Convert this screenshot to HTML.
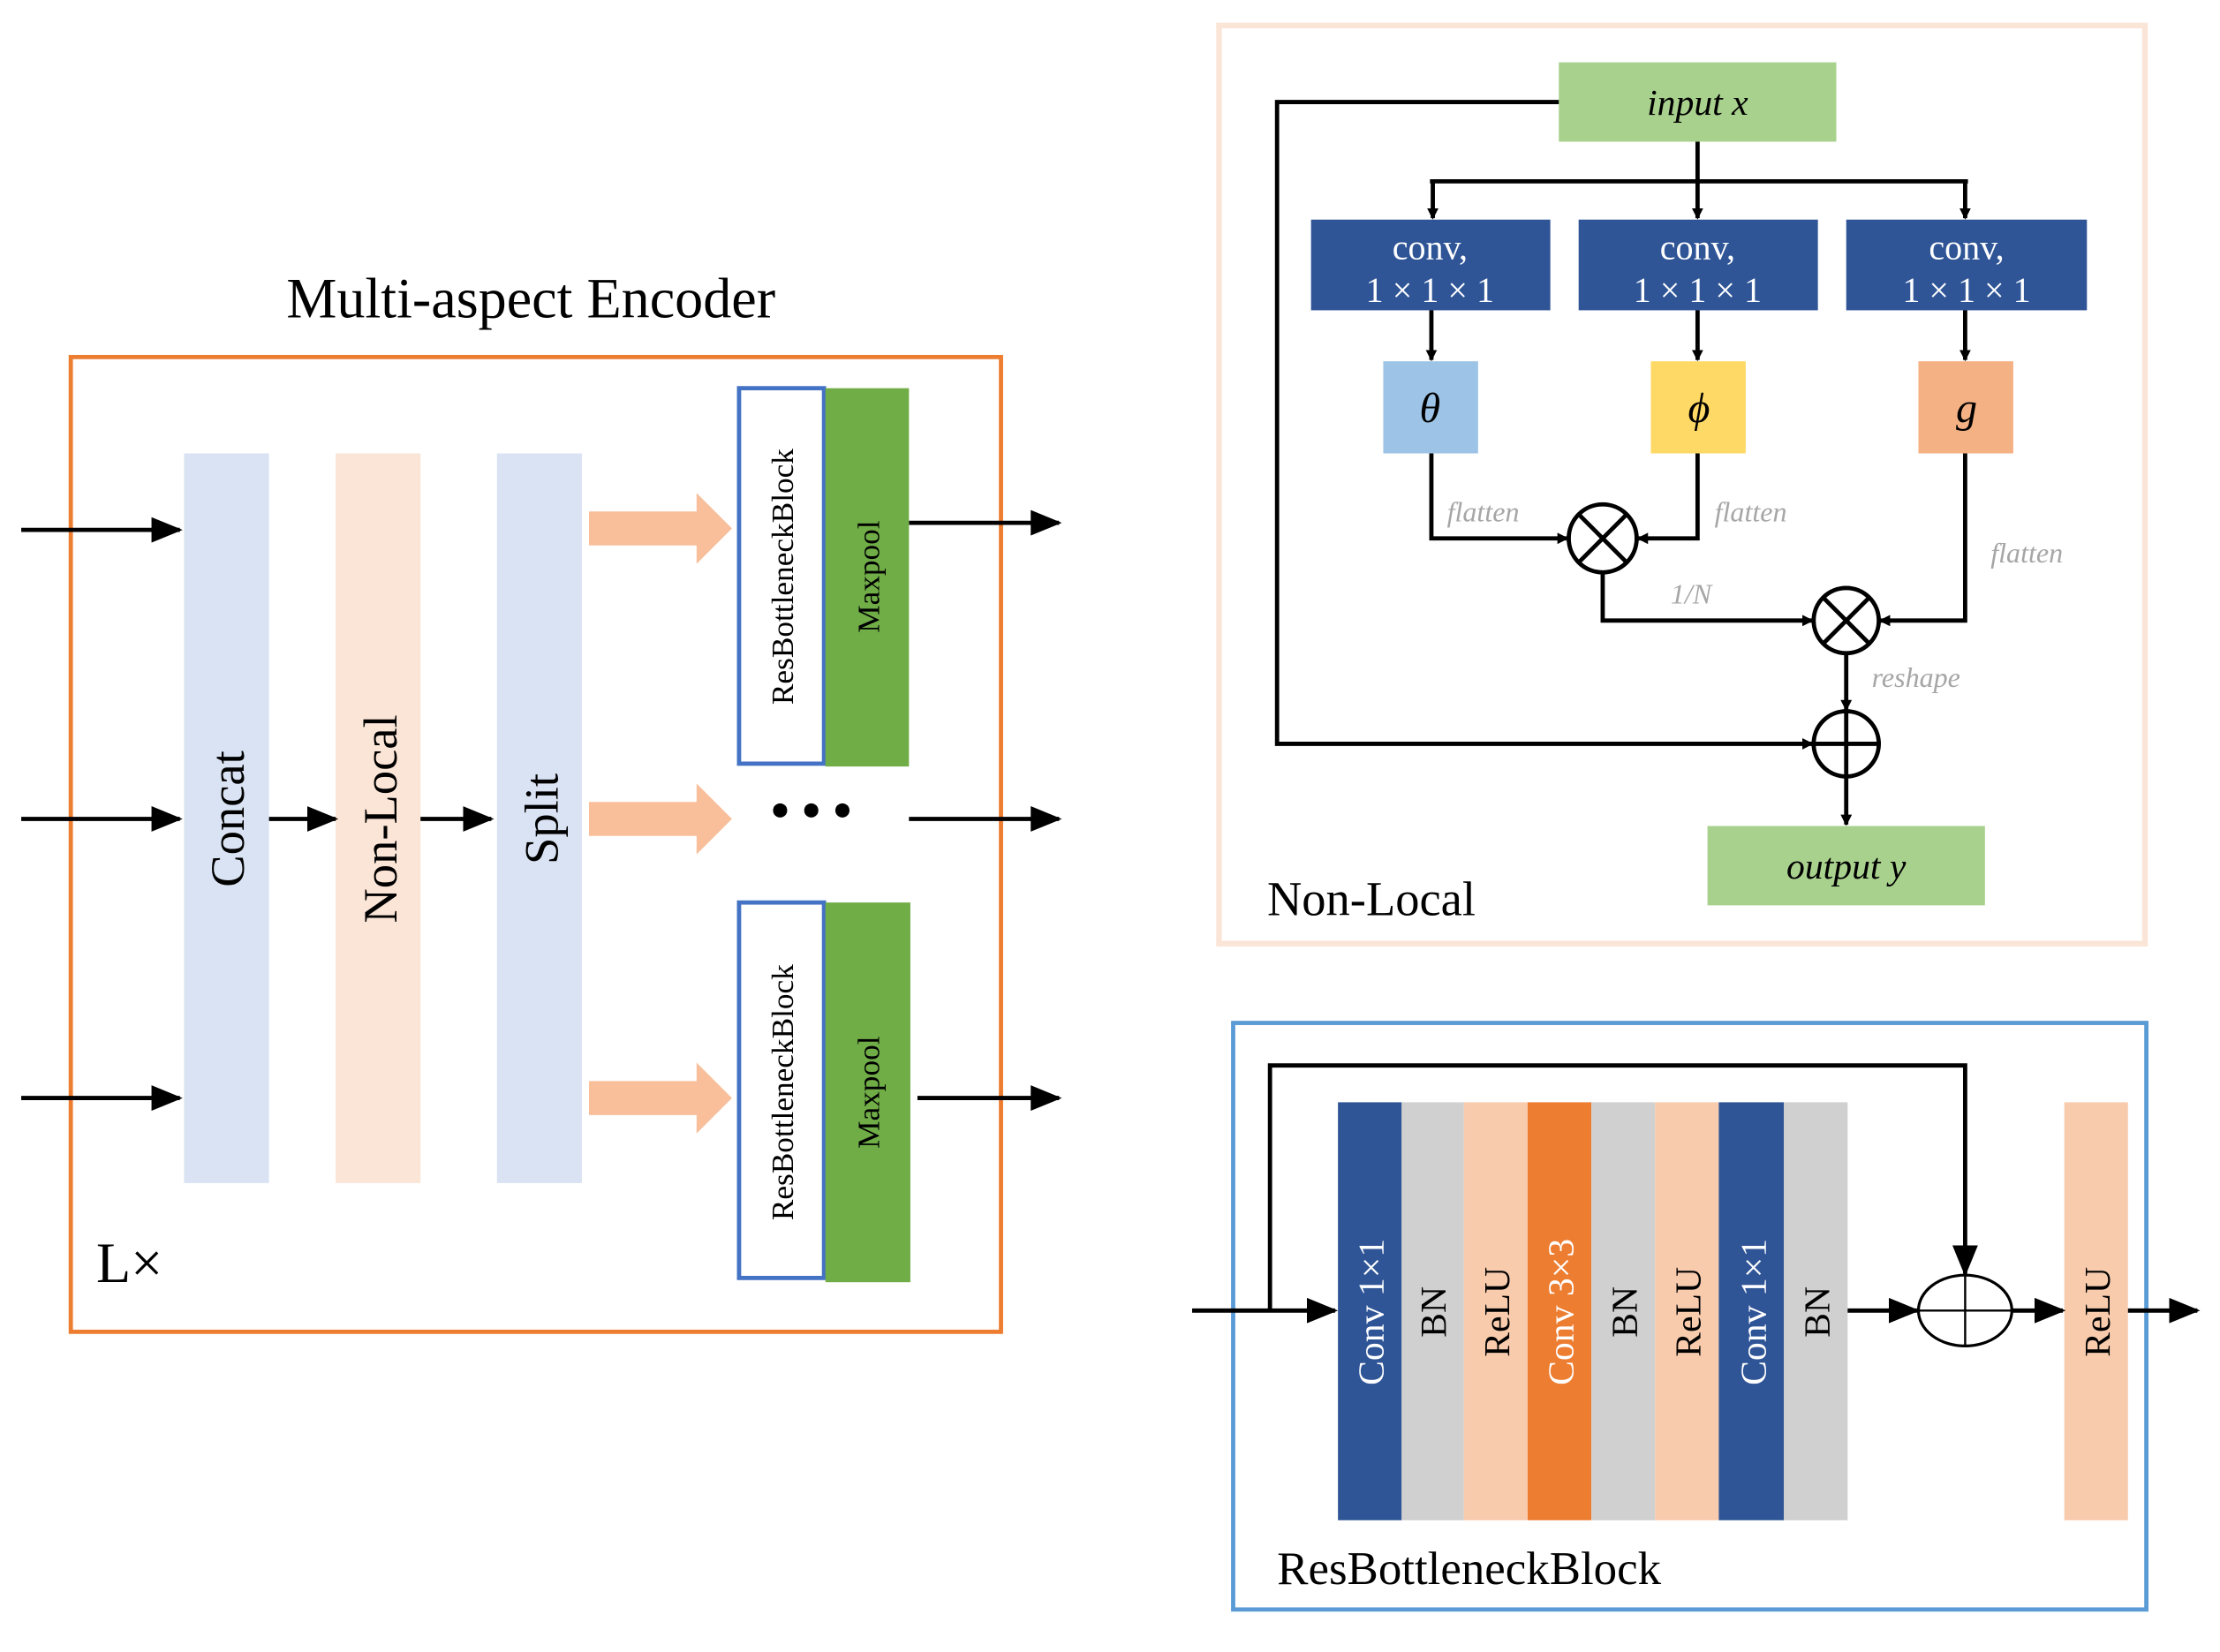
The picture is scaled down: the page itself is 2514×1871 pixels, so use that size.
<!DOCTYPE html>
<html><head><meta charset="utf-8"><style>html,body{margin:0;padding:0;background:#fff}svg{display:block}</style></head><body>
<svg width="2514" height="1871" viewBox="0 0 1568 1166" preserveAspectRatio="none" xmlns="http://www.w3.org/2000/svg" font-family="'Liberation Serif',serif">
<defs>
<marker id="a" markerWidth="8" markerHeight="8" refX="7" refY="4" orient="auto" markerUnits="userSpaceOnUse" viewBox="0 0 8 8"><path d="M0,0 L8,4 L0,8 z" fill="#000"/></marker>
<marker id="b" markerWidth="22" markerHeight="18" refX="20" refY="9" orient="auto" markerUnits="userSpaceOnUse"><path d="M0,0 L22,9 L0,18 z" fill="#000"/></marker>
</defs>
<!-- Left panel -->
<text x="375" y="224" font-size="40" text-anchor="middle">Multi-aspect Encoder</text>
<rect x="50" y="252" width="657" height="688" fill="none" stroke="#ed7d31" stroke-width="3"/>
<rect x="130" y="320" width="60" height="515" fill="#dae3f3"/>
<rect x="237" y="320" width="60" height="515" fill="#fbe5d6"/>
<rect x="351" y="320" width="60" height="515" fill="#dae3f3"/>
<text transform="translate(172,578) rotate(-90)" font-size="34" text-anchor="middle">Concat</text>
<text transform="translate(280,578) rotate(-90)" font-size="34" text-anchor="middle">Non-Local</text>
<text transform="translate(394,578) rotate(-90)" font-size="34" text-anchor="middle">Split</text>
<g stroke="#000" stroke-width="3" fill="none" marker-end="url(#b)">
<line x1="15" y1="374" x2="127" y2="374"/><line x1="15" y1="578" x2="127" y2="578"/><line x1="15" y1="775" x2="127" y2="775"/>
<line x1="190" y1="578" x2="237" y2="578"/><line x1="297" y1="578" x2="347" y2="578"/>
<line x1="642" y1="369" x2="748" y2="369"/><line x1="642" y1="578" x2="748" y2="578"/><line x1="648" y1="775" x2="748" y2="775"/>
</g>
<g fill="#f8bf9a">
<path d="M416,361 H492 V348 L517,373 L492,398 V385 H416 Z"/>
<path d="M416,566 H492 V553 L517,578 L492,603 V590 H416 Z"/>
<path d="M416,763 H492 V750 L517,775 L492,800 V787 H416 Z"/>
</g>
<rect x="522" y="274" width="60" height="265" fill="#fff" stroke="#4472c4" stroke-width="3"/>
<rect x="583" y="274" width="59" height="267" fill="#70ad47"/>
<rect x="522" y="637" width="60" height="265" fill="#fff" stroke="#4472c4" stroke-width="3"/>
<rect x="583" y="637" width="60" height="268" fill="#70ad47"/>
<text transform="translate(560,407) rotate(-90)" font-size="22" text-anchor="middle">ResBottleneckBlock</text>
<text transform="translate(621,407) rotate(-90)" font-size="22" text-anchor="middle">Maxpool</text>
<text transform="translate(560,771) rotate(-90)" font-size="22" text-anchor="middle">ResBottleneckBlock</text>
<text transform="translate(621,771) rotate(-90)" font-size="22" text-anchor="middle">Maxpool</text>
<circle cx="551" cy="572" r="5"/><circle cx="573" cy="572" r="5"/><circle cx="595" cy="572" r="5"/>
<text x="68" y="905" font-size="40">L×</text>

<!-- Non-Local panel -->
<rect x="861" y="18" width="654" height="648" fill="none" stroke="#fbe5d6" stroke-width="4"/>
<rect x="1101" y="44" width="196" height="56" fill="#a9d18e"/>
<text x="1199" y="81" font-size="26" font-style="italic" text-anchor="middle">input x</text>
<rect x="1206" y="583" width="196" height="56" fill="#a9d18e"/>
<text x="1304" y="620" font-size="26" font-style="italic" text-anchor="middle">output y</text>
<g fill="#2f5597"><rect x="926" y="155" width="169" height="64"/><rect x="1115" y="155" width="169" height="64"/><rect x="1304" y="155" width="170" height="64"/></g>
<g fill="#fff" font-size="25" text-anchor="middle">
<text x="1010" y="183">conv,</text><text x="1010" y="213">1 × 1 × 1</text>
<text x="1199" y="183">conv,</text><text x="1199" y="213">1 × 1 × 1</text>
<text x="1389" y="183">conv,</text><text x="1389" y="213">1 × 1 × 1</text>
</g>
<rect x="977" y="255" width="67" height="65" fill="#9dc3e6"/>
<rect x="1166" y="255" width="67" height="65" fill="#ffd966"/>
<rect x="1355" y="255" width="67" height="65" fill="#f4b183"/>
<g font-size="30" font-style="italic" text-anchor="middle"><text x="1010" y="298">θ</text><text x="1200" y="298">ϕ</text><text x="1389" y="298">g</text></g>
<g stroke="#000" stroke-width="3" fill="none">
<polyline points="1101,72 902,72 902,525 1280,525" marker-end="url(#a)"/>
<line x1="1199" y1="100" x2="1199" y2="128"/>
<line x1="1010" y1="128" x2="1390" y2="128"/>
<line x1="1012" y1="128" x2="1012" y2="154" marker-end="url(#a)"/>
<line x1="1199" y1="128" x2="1199" y2="154" marker-end="url(#a)"/>
<line x1="1388" y1="128" x2="1388" y2="154" marker-end="url(#a)"/>
<line x1="1011" y1="219" x2="1011" y2="254" marker-end="url(#a)"/>
<line x1="1199" y1="219" x2="1199" y2="254" marker-end="url(#a)"/>
<line x1="1388" y1="219" x2="1388" y2="254" marker-end="url(#a)"/>
<polyline points="1011,320 1011,380 1107,380" marker-end="url(#a)"/>
<polyline points="1199,320 1199,380 1157,380" marker-end="url(#a)"/>
<polyline points="1132,404 1132,438 1280,438" marker-end="url(#a)"/>
<polyline points="1388,320 1388,438 1328,438" marker-end="url(#a)"/>
<line x1="1304" y1="461" x2="1304" y2="501" marker-end="url(#a)"/>
<line x1="1304" y1="548" x2="1304" y2="582" marker-end="url(#a)"/>
<circle cx="1132" cy="380" r="24"/><line x1="1115" y1="363" x2="1149" y2="397"/><line x1="1149" y1="363" x2="1115" y2="397"/>
<circle cx="1304" cy="438" r="23"/><line x1="1288" y1="422" x2="1320" y2="454"/><line x1="1320" y1="422" x2="1288" y2="454"/>
<circle cx="1304" cy="525" r="23"/><line x1="1281" y1="525" x2="1327" y2="525"/><line x1="1304" y1="502" x2="1304" y2="548"/>
</g>
<g fill="#a6a6a6" font-size="20" font-style="italic">
<text x="1022" y="368">flatten</text><text x="1211" y="368">flatten</text><text x="1406" y="397">flatten</text>
<text x="1180" y="426">1/N</text><text x="1322" y="485">reshape</text>
</g>
<text x="895" y="646" font-size="34">Non-Local</text>

<!-- ResBottleneck panel -->
<rect x="871" y="722" width="645" height="414" fill="none" stroke="#5b9bd5" stroke-width="3"/>
<rect x="945" y="778" width="45" height="295" fill="#2f5597"/>
<rect x="990" y="778" width="44" height="295" fill="#d0d0d0"/>
<rect x="1034" y="778" width="45" height="295" fill="#f8cbad"/>
<rect x="1079" y="778" width="45" height="295" fill="#ed7d31"/>
<rect x="1124" y="778" width="45" height="295" fill="#d0d0d0"/>
<rect x="1169" y="778" width="45" height="295" fill="#f8cbad"/>
<rect x="1214" y="778" width="46" height="295" fill="#2f5597"/>
<rect x="1260" y="778" width="45" height="295" fill="#d0d0d0"/>
<rect x="1458" y="778" width="45" height="295" fill="#f8cbad"/>
<g font-size="26" text-anchor="middle">
<text transform="translate(977,926) rotate(-90)" fill="#fff">Conv 1×1</text>
<text transform="translate(1021,926) rotate(-90)">BN</text>
<text transform="translate(1066,926) rotate(-90)">ReLU</text>
<text transform="translate(1111,926) rotate(-90)" fill="#fff">Conv 3×3</text>
<text transform="translate(1156,926) rotate(-90)">BN</text>
<text transform="translate(1201,926) rotate(-90)">ReLU</text>
<text transform="translate(1247,926) rotate(-90)" fill="#fff">Conv 1×1</text>
<text transform="translate(1292,926) rotate(-90)">BN</text>
<text transform="translate(1490,926) rotate(-90)">ReLU</text>
</g>
<g stroke="#000" stroke-width="3" fill="none">
<line x1="842" y1="925" x2="943" y2="925" marker-end="url(#b)"/>
<polyline points="897,925 897,752 1388,752 1388,899" marker-end="url(#b)"/>
<line x1="1305" y1="925" x2="1354" y2="925" marker-end="url(#b)"/>
<line x1="1421" y1="925" x2="1457" y2="925" marker-end="url(#b)"/>
<line x1="1503" y1="925" x2="1552" y2="925" marker-end="url(#b)"/>
<ellipse cx="1388" cy="925" rx="33" ry="25" stroke-width="2"/>
<line x1="1355" y1="925" x2="1421" y2="925" stroke-width="1.5"/><line x1="1388" y1="900" x2="1388" y2="950" stroke-width="1.5"/>
</g>
<text x="902" y="1118" font-size="33">ResBottleneckBlock</text>
</svg>
</body></html>
